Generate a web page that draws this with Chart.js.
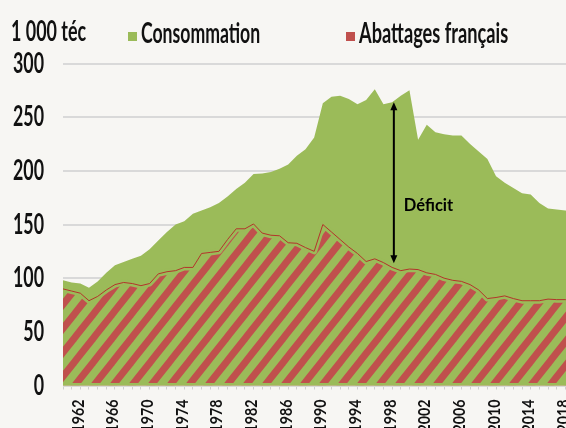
<!DOCTYPE html>
<html><head><meta charset="utf-8">
<script src="https://cdn.jsdelivr.net/npm/chart.js@4"></script>
<style>
html,body{margin:0;padding:0;background:#f7f6f3;overflow:hidden;width:566px;height:428px;}
#wrap{position:absolute;left:0;top:0;width:578px;height:440px;}
.t{position:absolute;font-family:Lato,"Liberation Sans",sans-serif;font-weight:bold;font-size:28px;line-height:28px;color:#111;transform-origin:0 0;white-space:nowrap;}
.box{position:absolute;width:9px;height:9px;}
</style></head><body>
<div id="wrap"><canvas id="c" width="578" height="440"></canvas></div>
<div class="t" data-w="75" style="left:11px;top:15.7px">1 000 téc</div>
<div class="box" style="left:128px;top:31.5px;background:#9BBB59"></div>
<div class="t" data-w="119" style="left:141px;top:18px">Consommation</div>
<div class="box" style="left:346px;top:31.5px;background:#C0504D"></div>
<div class="t" data-w="149" style="left:359px;top:18px">Abattages français</div>
<script>
const years = [1960,1961,1962,1963,1964,1965,1966,1967,1968,1969,
  1970,1971,1972,1973,1974,1975,1976,1977,1978,1979,
  1980,1981,1982,1983,1984,1985,1986,1987,1988,1989,
  1990,1991,1992,1993,1994,1995,1996,1997,1998,1999,
  2000,2001,2002,2003,2004,2005,2006,2007,2008,2009,
  2010,2011,2012,2013,2014,2015,2016,2017,2018,2019];
const consommation = [98,96,95,91,97,105,112,115,118,121,
  127,135,143,150,153,160,163,166,170,176,
  183,189,197,197.5,199,202,206,214,220,231,
  263,269,270,267,262,266,276,262,264,270,
  275,229,243,236,234,233,233,225,218,211,
  195,189,184,179,178,170,165,164,163,162];
const abattages = [90,88,86,79,83,89,94,96,95,93,
  95,104,106,107,110,110,123,124,125,136,
  146,146,150.5,142,140,139.5,133,132.5,128.5,125,
  150,143,136,129,123,115.5,118,114.5,110,107,
  108.5,108,105,103.5,100,98,97,94,89,81,
  82,83.5,81,79,79,79,80.5,80,80,80];
const yTicks = [0,50,100,150,200,250,300];
const xLabelYears = [1962,1966,1970,1974,1978,1982,1986,1990,1994,1998,2002,2006,2010,2014,2018];
const deficitYear = 1998.2, deficitTop = 264, deficitBottom = 114, deficitLabelValue = 168;

const GREEN = '#9BBB59', RED = '#C0504D';
const FONT = 'Lato, "Liberation Sans", sans-serif';
const pts = arr => years.map((y,i)=>({x:y, y:arr[i]}));
const baseLine = years.map(y=>({x:y, y:0}));

// condense HTML texts to the reference widths
document.querySelectorAll('.t').forEach(el=>{
  const w = el.offsetWidth;
  el.style.transform = 'scaleX(' + (parseFloat(el.dataset.w)/w) + ')';
});

// diagonal stripe pattern
const pc = document.createElement('canvas');
const PW = 19, PH = 24;
pc.width = PW; pc.height = PH;
const pctx = pc.getContext('2d');
pctx.strokeStyle = RED; pctx.lineWidth = 7;
for (let k=-2;k<=2;k++){
  pctx.beginPath();
  pctx.moveTo(-PW + k*PW, 2*PH);
  pctx.lineTo(2*PW + k*PW, -PH);
  pctx.stroke();
}
const canvas = document.getElementById('c');
const ctx2d = canvas.getContext('2d');
const pattern = ctx2d.createPattern(pc,'repeat');

// condensed rendering of tick labels (reference uses a condensed face)
const Y_SIZE = 28, X_SIZE = 17;
const squeeze = {};
ctx2d.save();
ctx2d.font = 'bold ' + Y_SIZE + 'px ' + FONT; squeeze[Y_SIZE] = 31 / ctx2d.measureText('300').width;
ctx2d.font = 'bold ' + X_SIZE + 'px ' + FONT; squeeze[X_SIZE] = 33 / ctx2d.measureText('1962').width;
ctx2d.restore();
const rawFill = ctx2d.fillText;
ctx2d.fillText = function(text, x, y, mw){
  const m = /(\d+(?:\.\d+)?)px/.exec(this.font);
  const f = m ? squeeze[parseFloat(m[1])] : undefined;
  if (!f) return rawFill.call(this, text, x, y, mw);
  this.save(); this.translate(x, y); this.scale(f, 1); rawFill.call(this, text, 0, 0); this.restore();
};

const deficitPlugin = {
  id:'deficit',
  afterDatasetsDraw(chart){
    const {ctx, scales:{x,y}} = chart;
    const px = x.getPixelForValue(deficitYear);
    const y1 = y.getPixelForValue(deficitTop), y2 = y.getPixelForValue(deficitBottom);
    ctx.save();
    ctx.strokeStyle = '#000'; ctx.fillStyle = '#000'; ctx.lineWidth = 2;
    ctx.beginPath(); ctx.moveTo(px, y1+6); ctx.lineTo(px, y2-6); ctx.stroke();
    ctx.beginPath(); ctx.moveTo(px, y1); ctx.lineTo(px-3.5, y1+8); ctx.lineTo(px+3.5, y1+8); ctx.closePath(); ctx.fill();
    ctx.beginPath(); ctx.moveTo(px, y2); ctx.lineTo(px-3.5, y2-8); ctx.lineTo(px+3.5, y2-8); ctx.closePath(); ctx.fill();
    ctx.font = 'bold 16.5px Lato, "Open Sans", sans-serif';
    ctx.textBaseline = 'middle'; ctx.textAlign = 'left';
    ctx.fillText('Déficit', px+10, y.getPixelForValue(deficitLabelValue));
    ctx.restore();
  }
};

Chart.defaults.font.family = FONT;
new Chart(canvas, {
  type:'line',
  data:{datasets:[
    {label:'ligne', data:pts(abattages), borderColor:'#B3342B', borderWidth:1, fill:false, pointRadius:0, order:0, clip:0},
    {label:'gap', data:pts(abattages), borderColor:GREEN, borderWidth:6, borderJoinStyle:'round', fill:false, pointRadius:0, order:1, clip:0},
    {label:'gapBase', data:baseLine, borderColor:GREEN, borderWidth:5, fill:false, pointRadius:0, order:1, clip:0},
    {label:'Abattages français', data:pts(abattages), backgroundColor:pattern, borderColor:'transparent', borderWidth:0, fill:'origin', pointRadius:0, order:2, clip:0},
    {label:'Consommation', data:pts(consommation), backgroundColor:GREEN, borderColor:'transparent', borderWidth:0, fill:'origin', pointRadius:0, order:3, clip:0}
  ]},
  options:{
    responsive:false, animation:false,
    layout:{padding:{top:63.5,right:4,left:0,bottom:0}},
    plugins:{legend:{display:false}, tooltip:{enabled:false}},
    scales:{
      x:{type:'linear', min:1960, max:2019,
        afterFit(s){ s.height = 54.5; s.paddingLeft = 0; s.paddingRight = 0; },
        afterBuildTicks(s){ s.ticks = years.map(v=>({value:v})); },
        grid:{drawOnChartArea:false, drawTicks:true, tickLength:4, color:'#cfcfcf'},
        border:{color:'#e2b9b7', width:1},
        ticks:{autoSkip:false, maxRotation:90, minRotation:90, padding:10, labelOffset:-2, font:{size:X_SIZE, weight:'bold'}, color:'#111',
          callback:v => xLabelYears.includes(v) ? String(v) : ''}
      },
      y:{min:0, max:300,
        afterFit(s){ s.width = 63; s.paddingTop = 0; s.paddingBottom = 0; },
        afterBuildTicks(s){ s.ticks = yTicks.map(v=>({value:v})); },
        grid:{color:'#d9d9d9', lineWidth:2, drawTicks:false},
        border:{display:false},
        ticks:{padding:19, font:{size:Y_SIZE, weight:'bold'}, color:'#111'}
      }
    }
  },
  plugins:[deficitPlugin]
});
</script>
</body></html>
